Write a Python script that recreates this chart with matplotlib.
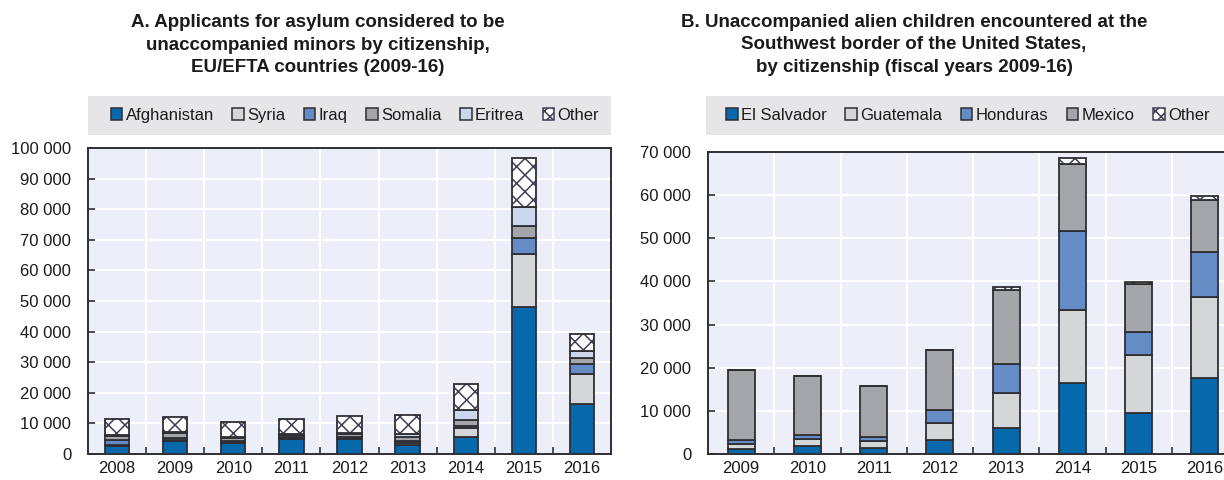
import matplotlib
matplotlib.use("Agg")
import matplotlib.pyplot as plt
from matplotlib.patches import Rectangle, Patch
from matplotlib.ticker import FuncFormatter, MultipleLocator
import numpy as np

plt.rcParams['font.family'] = ['Liberation Sans', 'DejaVu Sans']
plt.rcParams['hatch.linewidth'] = 1.1

# Panel A: unaccompanied minors applying for asylum, EU/EFTA (thousands)
years_a = ["2008", "2009", "2010", "2011", "2012", "2013", "2014", "2015", "2016"]
afghanistan = [2.7, 4.3, 3.6, 4.8, 4.8, 2.9, 5.4, 48.0, 16.4]
syria       = [0.3, 0.4, 0.4, 0.3, 0.4, 0.8, 3.0, 17.4, 9.9]
iraq        = [1.6, 0.5, 0.4, 0.5, 0.4, 0.7, 0.6, 5.3, 3.0]
somalia     = [1.2, 1.5, 0.8, 0.5, 0.8, 1.3, 2.0, 3.9, 2.2]
eritrea     = [0.3, 0.5, 0.5, 0.3, 0.4, 0.8, 3.4, 6.1, 2.0]
other_a     = [5.2, 4.8, 4.6, 5.0, 5.5, 6.1, 8.4, 16.1, 5.8]

# Panel B: unaccompanied alien children, US Southwest border (thousands)
years_b = ["2009", "2010", "2011", "2012", "2013", "2014", "2015", "2016"]
el_salvador = [1.22, 1.91, 1.39, 3.31, 5.99, 16.40, 9.39, 17.51]
guatemala   = [1.12, 1.52, 1.57, 3.84, 8.07, 17.06, 13.59, 18.91]
honduras    = [0.97, 1.02, 0.97, 3.00, 6.75, 18.24, 5.41, 10.47]
mexico      = [16.11, 13.72, 11.77, 13.97, 17.24, 15.63, 11.01, 11.93]
other_b     = [0.0, 0.0, 0.0, 0.0, 0.71, 1.20, 0.57, 0.87]

title_a = ["A. Applicants for asylum considered to be",
           "unaccompanied minors by citizenship,",
           "EU/EFTA countries (2009-16)"]
title_b = ["B. Unaccompanied alien children encountered at the",
           "Southwest border of the United States,",
           "by citizenship (fiscal years 2009-16)"]

C_BLUE = "#0868AC"
C_LGRAY = "#D5D6D8"
C_MBLUE = "#658CC4"
C_GRAY = "#A4A5A8"
C_LBLUE = "#CAD7EC"
C_WHITE = "#FFFFFF"
EDGE = "#2E2E33"
HATCH_EDGE = "#3E3E55"
BG = "#ECEFF7"
BAND = "#E6E6E9"
TXT = "#1A1A1A"

series_a = [("Afghanistan", afghanistan, C_BLUE), ("Syria", syria, C_LGRAY),
            ("Iraq", iraq, C_MBLUE), ("Somalia", somalia, C_GRAY),
            ("Eritrea", eritrea, C_LBLUE), ("Other", other_a, C_WHITE)]
series_b = [("El Salvador", el_salvador, C_BLUE), ("Guatemala", guatemala, C_LGRAY),
            ("Honduras", honduras, C_MBLUE), ("Mexico", mexico, C_GRAY),
            ("Other", other_b, C_WHITE)]

W, H = 1224, 480
fig = plt.figure(figsize=(W / 100, H / 100), dpi=100)

FS = 12
TITLE_BASELINES = [27, 49.5, 72]


def fx(px):
    return px / W


def fy(py):
    return 1 - py / H


def space_fmt(v, _):
    return f"{int(round(v * 1000)):,}".replace(",", " ")


def draw_panel(rect, band, cats, series, ymax, width, title, title_x, legend_x):
    ax = fig.add_axes(rect)
    ax.set_facecolor(BG)
    x = np.arange(len(cats))
    bottom = np.zeros(len(cats))
    handles = []
    for name, vals, col in series:
        vals = np.array(vals, dtype=float)
        if name == "Other":
            ax.bar(x, vals, width, bottom=bottom, color=col, edgecolor=HATCH_EDGE,
                   hatch="xx", linewidth=0, zorder=3)
            ax.bar(x, vals, width, bottom=bottom, color="none", edgecolor=EDGE,
                   linewidth=1.3, zorder=4)
            handles.append(Patch(facecolor=col, edgecolor=HATCH_EDGE, hatch="xxx",
                                 linewidth=1.1, label=name))
        else:
            ax.bar(x, vals, width, bottom=bottom, color=col, edgecolor=EDGE,
                   linewidth=1.3, zorder=3)
            handles.append(Patch(facecolor=col, edgecolor=EDGE, linewidth=1.1, label=name))
        bottom += vals

    ax.set_xlim(-0.5, len(cats) - 0.5)
    ax.set_ylim(0, ymax)
    ax.yaxis.set_major_locator(MultipleLocator(10))
    ax.yaxis.set_major_formatter(FuncFormatter(space_fmt))
    ax.set_xticks(x)
    ax.set_xticklabels(cats)
    ax.set_xticks(np.arange(len(cats) - 1) + 0.5, minor=True)
    ax.tick_params(axis="x", which="major", length=0, pad=5, labelsize=FS, labelcolor=TXT)
    ax.tick_params(axis="x", which="minor", direction="in", length=5, width=1.2, color=EDGE)
    ax.tick_params(axis="y", direction="in", length=5, width=1.2, color=EDGE,
                   labelsize=FS, labelcolor=TXT, pad=12)
    ax.grid(axis="y", which="major", color="white", linewidth=1.5, zorder=1)
    ax.grid(axis="x", which="minor", color="white", linewidth=1.5, zorder=1)
    ax.set_axisbelow(True)
    for s in ax.spines.values():
        s.set_color(EDGE)
        s.set_linewidth(1.4)

    # legend band above the plot
    bx0, by0, bx1, by1 = band
    fig.patches.append(Rectangle((fx(bx0), fy(by1)), fx(bx1 - bx0), (by1 - by0) / H,
                                 transform=fig.transFigure, facecolor=BAND,
                                 edgecolor="none", zorder=0))
    fig.legend(handles=handles, loc="center", ncol=len(handles),
               bbox_to_anchor=(fx(legend_x), fy((by0 + by1) / 2)),
               frameon=False, fontsize=FS, handlelength=0.7, handleheight=0.7,
               handletextpad=0.2, columnspacing=1.1, borderaxespad=0,
               labelcolor=TXT)
    for line, base in zip(title, TITLE_BASELINES):
        fig.text(fx(title_x), fy(base), line, ha="center", va="baseline",
                 fontsize=13.5, fontweight="bold", color=TXT)
    return ax


draw_panel([fx(88), fy(454), fx(611 - 88), (454 - 148) / H], (88, 96, 611, 135),
           years_a, series_a, 100, 0.42, title_a, 318, 355)

draw_panel([fx(708), fy(454), fx(1238 - 708), (454 - 152) / H], (706, 96, 1230, 135),
           years_b, series_b, 70, 0.41, title_b, 914, 968)

fig.savefig("out.png", dpi=100)
